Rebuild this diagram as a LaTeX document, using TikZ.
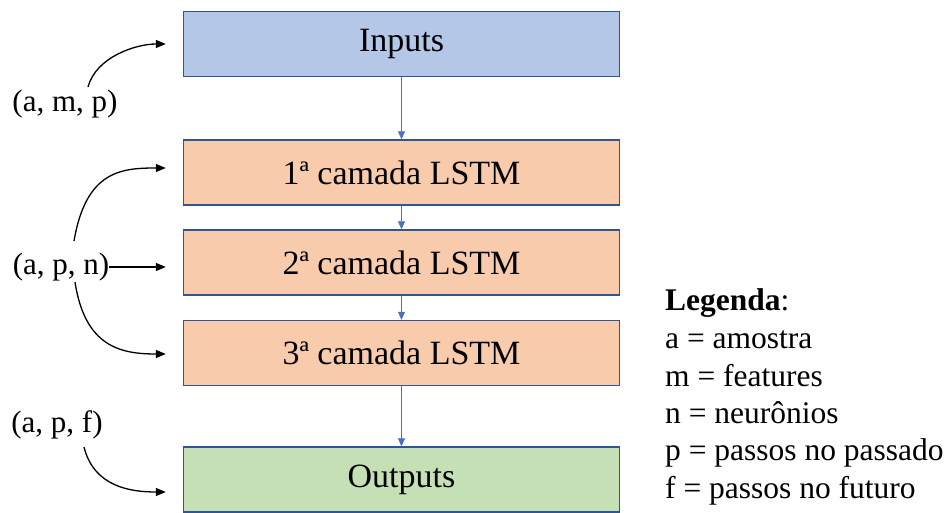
\documentclass[tikz,border=0pt]{standalone}
\usepackage{fontspec}
\setmainfont{Liberation Serif}
\usetikzlibrary{arrows.meta,calc}
\definecolor{bordc}{HTML}{2F5597}
\definecolor{inpc}{HTML}{B4C7E7}
\definecolor{lstmc}{HTML}{F8CBAD}
\definecolor{outc}{HTML}{C5E0B4}
\definecolor{flowc}{HTML}{4472C4}
\begin{document}
\begin{tikzpicture}[x=1pt,y=-1pt,
  box/.style={draw=bordc, line width=1.4pt, minimum width=436pt, minimum height=65pt, inner sep=0pt, font=\fontsize{34}{40}\selectfont},
  flow/.style={draw=flowc, line width=0.8pt, -{Triangle[length=8pt,width=7pt]}},
  dimlab/.style={font=\fontsize{31}{36}\selectfont, inner sep=0pt},
  dimarr/.style={draw=black, line width=1.3pt, -{Triangle[length=10pt,width=8pt]}},
  legline/.style={font=\fontsize{31.5}{36}\selectfont, anchor=base west, inner sep=0pt}]
\useasboundingbox (0,0) rectangle (951,513);
\node[box, fill=inpc] (inp) at (401.5,44) {Inputs};
\node[box, fill=lstmc] (l1) at (401.5,172.5) {1ª camada LSTM};
\node[box, fill=lstmc] (l2) at (401.5,262.5) {2ª camada LSTM};
\node[box, fill=lstmc] (l3) at (401.5,353) {3ª camada LSTM};
\node[box, fill=outc] (out) at (401.5,479.5) {Outputs};
\draw[flow] (inp) -- (l1);
\draw[flow] (l1) -- (l2);
\draw[flow] (l2) -- (l3);
\draw[flow] (l3) -- (out);
\node[dimlab] (amp) at (65,104) {(a, m, p)};
\node[dimlab] (apn) at (61,267) {(a, p, n)};
\node[dimlab] (apf) at (57,425) {(a, p, f)};
\coordinate (s0) at (88,87);
\coordinate (s1) at (74,241);
\coordinate (s3) at (75,282);
\coordinate (s4) at (84,447);
\coordinate (t0) at ([xshift=-17pt]inp.west);
\coordinate (t1) at ([xshift=-17pt,yshift=4.5pt]l1.west);
\coordinate (t2) at ([xshift=-17pt,yshift=-4.5pt]l2.west);
\coordinate (t3) at ([xshift=-17pt,yshift=-1pt]l3.west);
\coordinate (t4) at ([xshift=-17pt,yshift=-12.5pt]out.west);
\draw[dimarr] (s0) .. controls +(8,-30) and +(-30,0) .. (t0);
\draw[dimarr] (s1) .. controls +(12,-70) and +(-45,0) .. (t1);
\draw[dimarr] (apn.east) -- (t2);
\draw[dimarr] (s3) .. controls +(10,65) and +(-45,0) .. (t3);
\draw[dimarr] (s4) .. controls +(10,40) and +(-35,0) .. (t4);
\node[legline] (lg0) at (665,311) {\textbf{Legenda}:};
\node[legline] (lg1) at (665,348) {a = amostra};
\node[legline] (lg2) at (665,386) {m = features};
\node[legline] (lg3) at (665,423) {n = neurônios};
\node[legline] (lg4) at (665,460) {p = passos no passado};
\node[legline] (lg5) at (665,498) {f = passos no futuro};
\end{tikzpicture}
\end{document}
